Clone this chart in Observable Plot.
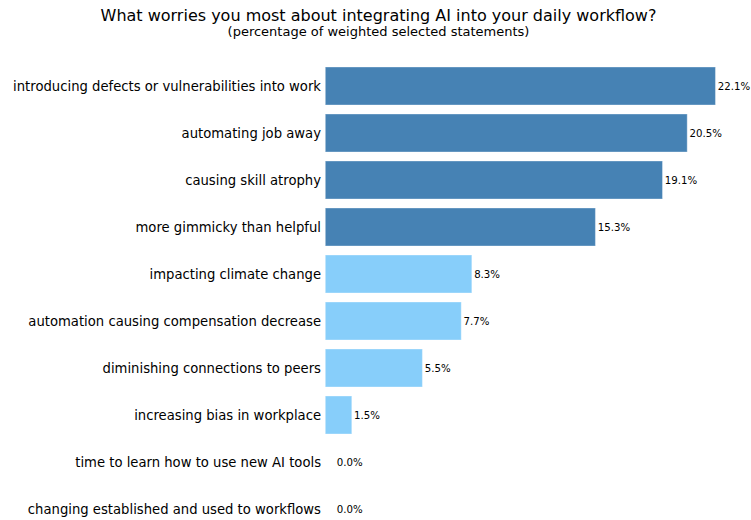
<!DOCTYPE html>
<html>
<head>
<meta charset="utf-8">
<script src="https://cdn.jsdelivr.net/npm/d3@7"></script>
<script src="https://cdn.jsdelivr.net/npm/@observablehq/plot@0.6"></script>
<style>
  html, body { margin: 0; padding: 0; background: #fff; overflow: hidden; width: 751px; height: 520px; }
  body { font-family: "DejaVu Sans", sans-serif; color: #000; }
  #title { margin-top: 7px; padding-left: 6px; font-size: 16px; line-height: 18px; text-align: center; width: 745px; white-space: nowrap; }
  #subtitle { margin-top: -1px; padding-left: 6px; font-size: 13px; line-height: 15px; text-align: center; width: 745px; white-space: nowrap; }
  #chart svg { display: block; }
</style>
</head>
<body>
<div id="title">What worries you most about integrating AI into your daily workflow?</div>
<div id="subtitle">(percentage of weighted selected statements)</div>
<div id="chart"></div>
<script>
const categories = [
  "introducing defects or vulnerabilities into work",
  "automating job away",
  "causing skill atrophy",
  "more gimmicky than helpful",
  "impacting climate change",
  "automation causing compensation decrease",
  "diminishing connections to peers",
  "increasing bias in workplace",
  "time to learn how to use new AI tools",
  "changing established and used to workflows"
];
const values = [22.1, 20.5, 19.1, 15.3, 8.3, 7.7, 5.5, 1.5, 0.0, 0.0];
const groups = ["top", "top", "top", "top", "rest", "rest", "rest", "rest", "rest", "rest"];

const data = categories.map((c, i) => ({category: c, value: values[i], group: groups[i]}));

const chart = Plot.plot({
  width: 751,
  height: 495,
  marginLeft: 325.3,
  marginRight: 2,
  marginTop: 22.3,
  marginBottom: 0,
  style: {fontFamily: "DejaVu Sans, sans-serif", fontSize: "13px", color: "#000", background: "#fff"},
  x: {domain: [0, 24], axis: null},
  y: {domain: categories, paddingInner: 0.2, paddingOuter: 0.1, label: null, axis: null},
  color: {domain: ["top", "rest"], range: ["#4682b4", "#87cefa"]},
  marks: [
    Plot.barX(data, {x: "value", y: "category", fill: "group", stroke: "white", strokeOpacity: 0.35, strokeWidth: 1}),
    Plot.axisY({tickSize: 0, tickPadding: 4.8, fontSize: 13.2, label: null}),
    Plot.text(data.filter(d => d.value > 0), {x: "value", y: "category", text: d => d.value.toFixed(1) + "%", textAnchor: "start", dx: 1.8, fontSize: 10.2, fill: "#000"}),
    Plot.text(data.filter(d => d.value === 0), {x: "value", y: "category", text: d => d.value.toFixed(1) + "%", textAnchor: "start", dx: 11, fontSize: 10.2, fill: "#000"})
  ]
});
document.getElementById("chart").appendChild(chart);
</script>
</body>
</html>
